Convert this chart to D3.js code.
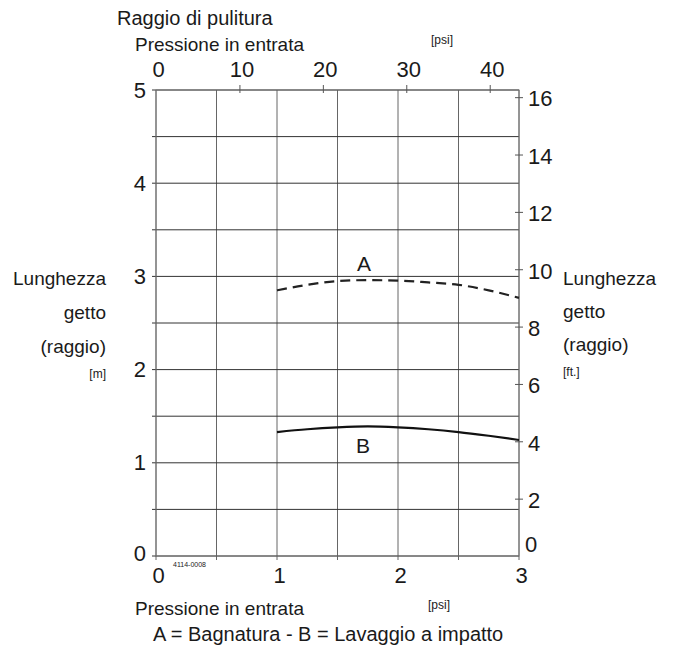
<!DOCTYPE html>
<html>
<head>
<meta charset="utf-8">
<script src="https://cdn.jsdelivr.net/npm/d3@7"></script>
<style>
  html, body { margin: 0; padding: 0; background: #fff; }
  svg { display: block; font-family: "Liberation Sans", Arial, Helvetica, sans-serif; }
</style>
</head>
<body>
<svg id="chart" width="675" height="650"></svg>
<script>
// ---- Data ----
const barTicks = [0, 1, 2, 3];
const psiTicks = [0, 10, 20, 30, 40];
const meterTicks = [0, 1, 2, 3, 4, 5];
const feetTicks = [0, 2, 4, 6, 8, 10, 12, 14, 16];
const gridBar = [0, 0.5, 1, 1.5, 2, 2.5, 3];
const gridMeter = [0, 0.5, 1, 1.5, 2, 2.5, 3, 3.5, 4, 4.5, 5];
const pressureBar = [1.0, 1.25, 1.5, 1.75, 2.0, 2.25, 2.5, 2.75, 3.0];
const radiusA = [2.85, 2.91, 2.95, 2.96, 2.955, 2.935, 2.91, 2.85, 2.77];
const radiusB = [1.33, 1.36, 1.38, 1.39, 1.38, 1.36, 1.33, 1.29, 1.245];
const psiPerBar = 14.5038;
const feetAtTop = 16.25;

const svg = d3.select("#chart");
const L = 156, R = 519, T = 90, B = 556;
const textColor = "#1a1a1a";

const x = d3.scaleLinear().domain([0, 3]).range([L, R]);
const xPsi = d3.scaleLinear().domain([0, 3 * psiPerBar]).range([L, R]);
const y = d3.scaleLinear().domain([0, 5]).range([B, T]);
const yFt = d3.scaleLinear().domain([0, feetAtTop]).range([B, T]);

// Grid
const g = svg.append("g");
g.selectAll("line.v").data(gridBar).enter().append("line")
  .attr("x1", d => x(d)).attr("x2", d => x(d))
  .attr("y1", T).attr("y2", B + 4)
  .attr("stroke", "#666").attr("stroke-width", 1);
g.selectAll("line.h").data(gridMeter).enter().append("line")
  .attr("x1", L - 4).attr("x2", R)
  .attr("y1", d => y(d)).attr("y2", d => y(d))
  .attr("stroke", "#333").attr("stroke-width", 1);
// Border
svg.append("rect").attr("x", L).attr("y", T).attr("width", R - L).attr("height", B - T)
  .attr("fill", "none").attr("stroke", "#777").attr("stroke-width", 1);

// Axes
const axisNum = sel => sel.selectAll("text").attr("font-size", 22).attr("fill", textColor)
  .attr("font-family", "Liberation Sans, Arial, sans-serif");

// Bottom (bar)
const ab = svg.append("g").attr("transform", `translate(0,${B})`)
  .call(d3.axisBottom(x).tickValues(barTicks).tickSize(0).tickPadding(11).tickFormat(d3.format("d")));
ab.select(".domain").remove();
axisNum(ab);
ab.selectAll("text").attr("dx", 2);

// Top (psi)
const at = svg.append("g").attr("transform", `translate(0,${T})`)
  .call(d3.axisTop(xPsi).tickValues(psiTicks).tickSizeInner(5).tickSizeOuter(0).tickPadding(8).tickFormat(d3.format("d")));
at.select(".domain").remove();
at.selectAll(".tick line").attr("y2", -5).attr("y1", 3).attr("stroke", "#555")
  .filter(d => d === 0).remove();
axisNum(at);
at.selectAll("text").attr("dx", 2);

// Left (m)
const al = svg.append("g").attr("transform", `translate(${L},0)`)
  .call(d3.axisLeft(y).tickValues(meterTicks).tickSize(0).tickPadding(10).tickFormat(d3.format("d")));
al.select(".domain").remove();
axisNum(al);
al.selectAll("text").filter(d => d === 0).attr("dy", "0.2em");

// Right (ft)
const ar = svg.append("g").attr("transform", `translate(${R},0)`)
  .call(d3.axisRight(yFt).tickValues(feetTicks).tickSize(4).tickPadding(5).tickFormat(d3.format("d")));
ar.select(".domain").remove();
ar.selectAll(".tick line").attr("x1", -4).attr("x2", 4).attr("stroke", "#555")
  .filter(d => d === 0).remove();
axisNum(ar);
ar.selectAll("text").attr("dy", "0.4em");
ar.selectAll("text").filter(d => d === 0).attr("dy", "-0.2em").attr("x", 6);

// Curves
const line = d3.line().x(d => x(d[0])).y(d => y(d[1])).curve(d3.curveMonotoneX);
svg.append("path").datum(pressureBar.map((p, i) => [p, radiusA[i]]))
  .attr("d", line).attr("fill", "none").attr("stroke", "#222").attr("stroke-width", 2.2)
  .attr("stroke-dasharray", "10,6");
svg.append("path").datum(pressureBar.map((p, i) => [p, radiusB[i]]))
  .attr("d", line).attr("fill", "none").attr("stroke", "#111").attr("stroke-width", 2.2);

// Curve labels
svg.append("text").attr("x", x(1.72)).attr("y", y(3.06)).attr("text-anchor", "middle")
  .attr("font-size", 21).attr("fill", textColor).text("A");
svg.append("text").attr("x", x(1.71)).attr("y", y(1.1)).attr("text-anchor", "middle")
  .attr("font-size", 21).attr("fill", textColor).text("B");

// Titles
const txt = (xx, yy, s, size, anchor) => svg.append("text").attr("x", xx).attr("y", yy)
  .attr("font-size", size).attr("fill", textColor).attr("text-anchor", anchor || "start").text(s);

txt(117, 25, "Raggio di pulitura", 20);
txt(135, 51, "Pressione in entrata", 19);
txt(431, 44, "[psi]", 12);

txt(106, 285, "Lunghezza", 19, "end");
txt(106, 319, "getto", 19, "end");
txt(106, 353, "(raggio)", 19, "end");
txt(106, 378, "[m]", 12, "end");

txt(563, 285, "Lunghezza", 19);
txt(563, 318, "getto", 19);
txt(563, 351, "(raggio)", 19);
txt(563, 376, "[ft.]", 12);

txt(135, 615, "Pressione in entrata", 19);
txt(428, 609, "[psi]", 12);
txt(153, 641, "A = Bagnatura - B = Lavaggio a impatto", 20);

txt(173, 567, "4114-0008", 7);
</script>
</body>
</html>
